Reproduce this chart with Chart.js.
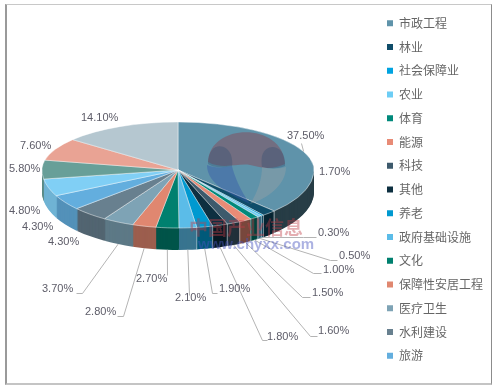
<!DOCTYPE html>
<html><head><meta charset="utf-8">
<script src="https://cdn.jsdelivr.net/npm/chart.js@4"></script>
<style>
html,body{margin:0;padding:0;background:#fff;overflow:hidden}
#wrap{position:relative;width:493px;height:386px}
canvas{position:absolute;left:0;top:0}
#frame{position:absolute;left:5px;top:4px;width:484px;height:378px;border:1px solid #c8c8c8;border-left:2px solid #9a9a9a;border-right:1px solid #8c8c8c;border-bottom:2px solid #c4c4c4;box-sizing:content-box;pointer-events:none}
</style></head><body>
<div id="wrap"><canvas id="c" width="493" height="386"></canvas><div id="frame"></div></div>
<script>
// Categories the legend shows (the reference legend lists the first 15 only)
const categories = ['市政工程','林业','社会保障业','农业','体育','能源','科技','其他','养老','政府基础设施','文化','保障性安居工程','医疗卫生','水利建设','旅游'];
// Share of each slice, clockwise from the top (percent)
const shares = [37.5,1.7,0.3,0.5,1.0,1.5,1.6,1.8,1.9,2.1,2.7,2.8,3.7,4.3,4.3,4.8,5.8,7.6,14.1];
const sliceColors = ['#5f93aa','#0f4d69','#00a3e0','#6dcdf5','#00897b','#e88b76','#3d5a6c','#0d2f40','#0099d0','#5bbce8','#00806f','#e08770','#7ea3b5','#68808f','#63aede','#80cff5','#689f98','#e9a394','#b5c7d0'];

// Label placement: [text left, text middle]
const labelAt = [[287,136],[319,172],[318,233],[339,256],[323,270],[312,293],[318,331],[267,337],[219,289],[175,298],[136,279],[85,312],[42,289],[48,242],[22,227],[9,211],[9,169],[20,146],[81,118]];
// Leader elbows after the rim point (null = no leader)
const leaders = [[[301,143]],null,[[303,237],[316,237]],[[330,260],[337,260]],[[313,273],[321,273]],[[302,297],[310,297]],[[310,336],[317,336]],[[262,340],[267,340]],[[212,293],[217,293]],[[189,295]],[[167,275]],[[123,316],[117,316]],[[82,293],[76,293]],null,null,null,null,null,null];

// Projection of the tilted disc
const G = {cx:178, cy:170, rx:136, up:48, down:58, depth:22};

function rgb(hex,f){
  const n=parseInt(hex.slice(1),16);
  return `rgb(${Math.round((n>>16&255)*f)},${Math.round((n>>8&255)*f)},${Math.round((n&255)*f)})`;
}
function paint(ctx,arcs,dy,styleFor){
  [[0,G.cy,G.up],[G.cy,386-G.cy,G.down]].forEach(([y0,h,sy])=>{
    ctx.save();
    ctx.beginPath();ctx.rect(0,y0+dy,493,h);ctx.clip();
    const r=arcs[0].outerRadius, a0=arcs[0];
    ctx.translate(G.cx,G.cy+dy);
    ctx.scale(G.rx/r,sy/r);
    ctx.translate(-a0.x,-a0.y);
    arcs.forEach((a,i)=>{
      const keep=a.options;
      a.options=Object.assign({},keep,styleFor(a,i));
      a.draw(ctx);
      a.options=keep;
    });
    ctx.restore();
  });
}
function rimPoint(angle,withDepth){ // angle from the top, clockwise
  const c=Math.cos(angle),s=Math.sin(angle);
  return [G.cx+G.rx*s, G.cy-(c>0?G.up:G.down)*c+((withDepth&&c<0)?G.depth:0)];
}
const tilted={
  id:'tilted',
  beforeDatasetDraw(chart){
    const ctx=chart.ctx, arcs=chart.getDatasetMeta(0).data;
    for(let d=G.depth;d>=1;d--){
      paint(ctx,arcs,d,(a,i)=>{
        const mid=(a.startAngle+a.endAngle)/2+Math.PI/2;
        const f=Math.max(.4,Math.min(.9,.635-.24*Math.sin(mid)));
        return {backgroundColor:rgb(sliceColors[i],f),borderWidth:0};
      });
    }
    // Seams between wall segments on the right front
    ctx.save();
    ctx.strokeStyle='rgba(225,232,235,.6)';ctx.lineWidth=1;
    arcs.forEach(a=>{
      const ang=a.endAngle+Math.PI/2;
      if(ang>Math.PI*0.74 && ang<Math.PI*0.96){
        const p=rimPoint(ang,false);
        ctx.beginPath();ctx.moveTo(p[0],p[1]);ctx.lineTo(p[0],p[1]+G.depth);ctx.stroke();
      }
    });
    ctx.restore();
    paint(ctx,arcs,0,(a,i)=>({backgroundColor:sliceColors[i],borderColor:'rgba(255,255,255,.75)',borderWidth:1.2}));
    return false;
  },
  afterDatasetsDraw(chart){
    const ctx=chart.ctx, arcs=chart.getDatasetMeta(0).data;
    ctx.save();
    ctx.strokeStyle='#b4b4b4';ctx.lineWidth=1;
    leaders.forEach((pts,i)=>{
      if(!pts)return;
      const a=arcs[i], p=rimPoint((a.startAngle+a.endAngle)/2+Math.PI/2,true);
      ctx.beginPath();ctx.moveTo(p[0],p[1]);
      pts.forEach(q=>ctx.lineTo(q[0]+.5,q[1]+.5));
      ctx.stroke();
    });
    ctx.fillStyle='#5d5c68';ctx.font='11px "Liberation Sans", Arial, sans-serif';
    ctx.textBaseline='middle';ctx.textAlign='left';
    shares.forEach((v,i)=>ctx.fillText(v.toFixed(2)+'%',labelAt[i][0],labelAt[i][1]));
    // Source watermark
    ctx.fillStyle='rgba(140,60,75,.42)';
    ctx.beginPath();ctx.moveTo(208,162);ctx.bezierCurveTo(210,122,283,122,285,164);
    ctx.bezierCurveTo(272,170,262,168,250,165);ctx.bezierCurveTo(238,163,222,170,208,162);ctx.fill();
    ctx.fillStyle='rgba(45,75,110,.34)';
    ctx.beginPath();ctx.moveTo(208,164);ctx.bezierCurveTo(208,142,226,142,231,155);ctx.bezierCurveTo(233,162,232,166,232,166);ctx.bezierCurveTo(222,168,214,168,208,164);ctx.fill();
    ctx.beginPath();ctx.moveTo(285,166);ctx.bezierCurveTo(286,144,266,142,262,156);ctx.bezierCurveTo(261,162,262,167,262,167);ctx.bezierCurveTo(270,169,278,169,285,166);ctx.fill();
    ctx.fillStyle='rgba(50,85,170,.42)';
    ctx.beginPath();ctx.moveTo(207,165);ctx.bezierCurveTo(207,185,232,195,250,204);ctx.bezierCurveTo(240,190,234,175,232,166);ctx.bezierCurveTo(222,168,214,168,207,165);ctx.fill();
    ctx.fillStyle='rgba(175,170,165,.3)';
    ctx.beginPath();ctx.moveTo(286,167);ctx.bezierCurveTo(286,185,268,198,250,204);ctx.bezierCurveTo(258,192,262,178,262,167);ctx.bezierCurveTo(270,169,278,169,286,167);ctx.fill();
    ctx.fillStyle='rgba(190,60,70,.42)';ctx.font='bold 19px "Noto Sans CJK SC", sans-serif';
    ctx.fillText('中国产业信息',189,228);
    ctx.fillStyle='rgba(70,85,190,.45)';ctx.font='bold 15px "Liberation Sans", Arial, sans-serif';
    ctx.fillText('www.chyxx.com',198,245);
    ctx.restore();
  }
};
new Chart(document.getElementById('c'),{
  type:'pie',
  data:{labels:categories,datasets:[{data:shares,backgroundColor:sliceColors,borderWidth:0}]},
  plugins:[tilted],
  options:{
    responsive:false,animation:false,
    layout:{padding:{bottom:7,right:0}},
    plugins:{
      tooltip:{enabled:false},
      legend:{position:'right',align:'center',labels:{boxWidth:6,boxHeight:6,padding:11.75,color:'#666',font:{size:12,family:'"Noto Sans CJK SC", sans-serif'}}}
    }
  }
});
</script></body></html>
